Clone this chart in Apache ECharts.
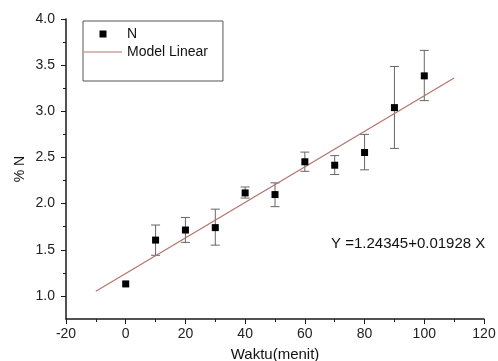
<!DOCTYPE html>
<html>
<head>
<meta charset="utf-8">
<script src="https://cdn.jsdelivr.net/npm/echarts@6/dist/echarts.min.js"></script>
<style>
  html, body { margin: 0; padding: 0; background: #fff; }
  #chart { width: 498px; height: 361px; }
</style>
</head>
<body>
<div id="chart"></div>
<script>
// waktu (menit) dan kadar %N
var times = [0, 10, 20, 30, 40, 50, 60, 70, 80, 90, 100];
var nValues = [1.13, 1.605, 1.714, 1.74, 2.116, 2.098, 2.453, 2.416, 2.554, 3.04, 3.384];
var errUpper = [null, 1.768, 1.85, 1.94, 2.18, 2.225, 2.558, 2.52, 2.75, 3.486, 3.66];
var errLower = [null, 1.44, 1.58, 1.55, 2.06, 1.967, 2.35, 2.315, 2.366, 2.598, 3.116];
// garis model linear
var fitX = [-10, 110];
var fitY = [1.05, 3.36];
var yLabelTicks = [1.0, 1.5, 2.0, 2.5, 3.0, 3.5, 4.0];
var yMinorTicks = [1.25, 1.75, 2.25, 2.75, 3.25, 3.75];
var equation = 'Y =1.24345+0.01928 X';

var chart = echarts.init(document.getElementById('chart'));

var pts = [];
var errData = [];
for (var i = 0; i < times.length; i++) {
	pts.push([times[i], nValues[i]]);
	if (errUpper[i] != null) {
		errData.push([times[i], errLower[i], errUpper[i]]);
	}
}
var fitData = [];
for (var j = 0; j < fitX.length; j++) {
	fitData.push([fitX[j], fitY[j]]);
}

var font = 'Liberation Sans, Arial, sans-serif';
var axisColor = '#1a1a1a';
var fitColor = '#b5726c';

var option = {
	animation: false,
	grid: { left: 66, right: 14, top: 19, bottom: 42, outerBoundsMode: 'none' },
	legend: {
		orient: 'vertical',
		left: 83,
		top: 21,
		padding: [6, 15, 22, 1],
		itemGap: 4,
		itemWidth: 38,
		itemHeight: 14,
		symbolKeepAspect: true,
		borderColor: '#555',
		borderWidth: 1,
		textStyle: { fontFamily: font, fontSize: 14, color: '#111' },
		data: [
			// kotak kecil di tengah area ikon
			{ name: 'N', icon: 'path://M0,0M14,14M3.5,3.5h7v7h-7z', itemStyle: { color: '#000' } },
			{ name: 'Model Linear', icon: 'path://M0,0h38v1.2h-38z', itemStyle: { color: fitColor } }
		]
	},
	xAxis: {
		type: 'value',
		min: -20,
		max: 120,
		interval: 20,
		name: 'Waktu(menit)',
		nameLocation: 'middle',
		nameGap: 28,
		nameMoveOverlap: false,
		nameTextStyle: { fontFamily: font, fontSize: 15, color: '#111' },
		axisLine: { onZero: false, lineStyle: { color: axisColor, width: 1.5 } },
		axisTick: { show: true, inside: false, length: 5, lineStyle: { color: axisColor } },
		minorTick: { show: true, splitNumber: 2, length: 3, lineStyle: { color: axisColor } },
		axisLabel: { fontFamily: font, fontSize: 14, color: '#222', margin: 8 },
		splitLine: { show: false }
	},
	yAxis: [{
		type: 'value',
		min: 0.75,
		max: 4.0,
		name: '% N',
		nameLocation: 'middle',
		nameGap: 39,
		nameMoveOverlap: false,
		nameTextStyle: { fontFamily: font, fontSize: 14, color: '#111' },
		axisLine: { show: true, onZero: false, lineStyle: { color: axisColor, width: 1.5 } },
		axisTick: { show: true, length: 5, customValues: yLabelTicks, lineStyle: { color: axisColor } },
		axisLabel: {
			fontFamily: font, fontSize: 14, color: '#222', margin: 11,
			customValues: yLabelTicks,
			formatter: function (v) { return v.toFixed(1); }
		},
		splitLine: { show: false }
	}, {
		type: 'value',
		position: 'left',
		min: 0.75,
		max: 4.0,
		axisLine: { show: false, onZero: false },
		axisTick: { show: true, length: 3, customValues: yMinorTicks, lineStyle: { color: axisColor } },
		axisLabel: { show: false },
		splitLine: { show: false }
	}],
	series: [{
		name: 'err',
		type: 'custom',
		z: 2,
		data: errData,
		renderItem: function (params, api) {
			var x = api.value(0);
			var lo = api.coord([x, api.value(1)]);
			var hi = api.coord([x, api.value(2)]);
			var w = 4.5;
			var st = { stroke: '#666', lineWidth: 1 };
			return {
				type: 'group',
				children: [
					{ type: 'line', shape: { x1: lo[0], y1: lo[1], x2: hi[0], y2: hi[1] }, style: st },
					{ type: 'line', shape: { x1: hi[0] - w, y1: hi[1], x2: hi[0] + w, y2: hi[1] }, style: st },
					{ type: 'line', shape: { x1: lo[0] - w, y1: lo[1], x2: lo[0] + w, y2: lo[1] }, style: st }
				]
			};
		}
	}, {
		name: 'Model Linear',
		type: 'line',
		z: 3,
		data: fitData,
		symbol: 'none',
		lineStyle: { color: fitColor, width: 1.2 },
		itemStyle: { color: fitColor }
	}, {
		name: 'N',
		type: 'scatter',
		z: 4,
		data: pts,
		symbol: 'rect',
		symbolSize: 7,
		itemStyle: { color: '#000', opacity: 1 }
	}],
	graphic: [{
		type: 'text',
		left: 331,
		top: 236,
		style: { text: equation, fontFamily: font, fontSize: 15, fill: '#111' }
	}]
};

chart.setOption(option);
</script>
</body>
</html>
